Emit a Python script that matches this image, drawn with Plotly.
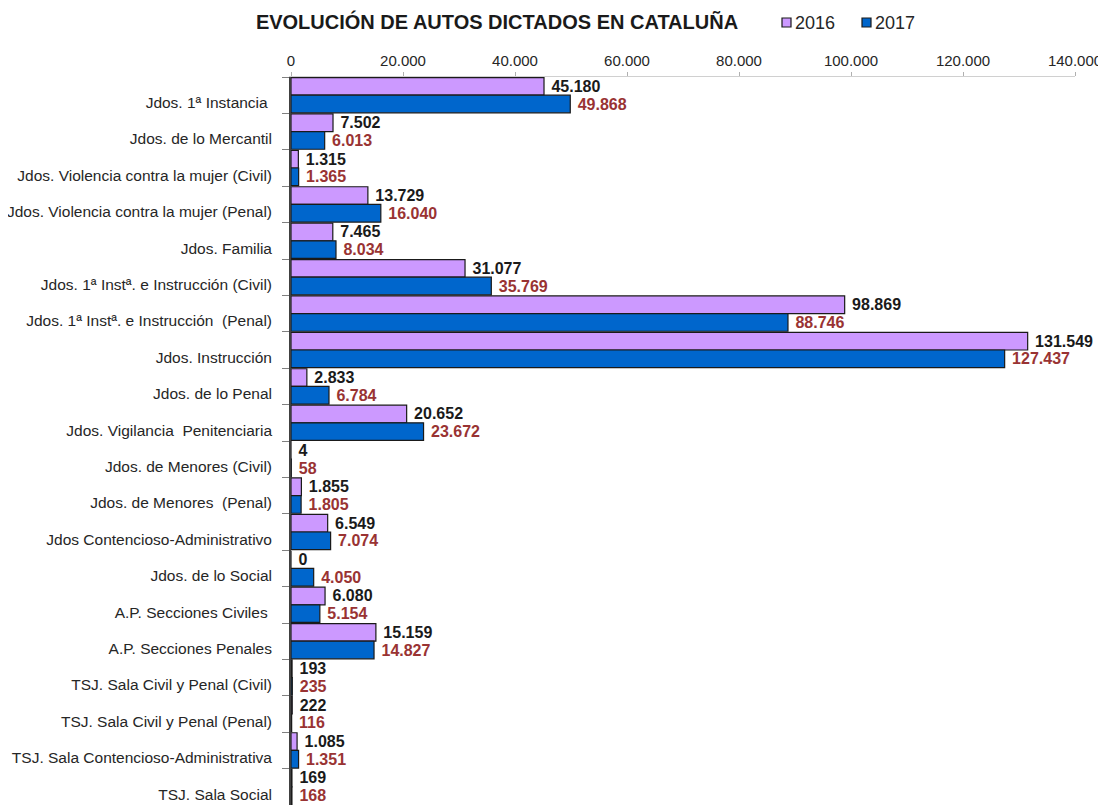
import plotly.graph_objects as go

NB = "\u00a0"
categories = [
    "Jdos. 1ª Instancia" + NB,
    "Jdos. de lo Mercantil",
    "Jdos. Violencia contra la mujer (Civil)",
    "Jdos. Violencia contra la mujer (Penal)",
    "Jdos. Familia",
    "Jdos. 1ª Instª. e Instrucción (Civil)",
    "Jdos. 1ª Instª. e Instrucción " + NB + "(Penal)",
    "Jdos. Instrucción",
    "Jdos. de lo Penal",
    "Jdos. Vigilancia " + NB + "Penitenciaria",
    "Jdos. de Menores (Civil)",
    "Jdos. de Menores " + NB + "(Penal)",
    "Jdos Contencioso-Administrativo",
    "Jdos. de lo Social",
    "A.P. Secciones Civiles" + NB,
    "A.P. Secciones Penales",
    "TSJ. Sala Civil y Penal (Civil)",
    "TSJ. Sala Civil y Penal (Penal)",
    "TSJ. Sala Contencioso-Administrativa",
    "TSJ. Sala Social",
]
values_2016 = [45180, 7502, 1315, 13729, 7465, 31077, 98869, 131549, 2833, 20652,
               4, 1855, 6549, 0, 6080, 15159, 193, 222, 1085, 169]
values_2017 = [49868, 6013, 1365, 16040, 8034, 35769, 88746, 127437, 6784, 23672,
               58, 1805, 7074, 4050, 5154, 14827, 235, 116, 1351, 168]
x_ticks = [0, 20000, 40000, 60000, 80000, 100000, 120000, 140000]
series_names = ["2016", "2017"]
series_colors = ["#CC99FF", "#0066CC"]
label_colors = ["#1a1a1a", "#993333"]

# the page body has an 8px margin, so the figure is sized to fill the rest
OFF = 8
W, H = 1106 - OFF, 805 - OFF
L, R, T, B = 291 - OFF, 31, 77 - OFF, 0
FONT = "Liberation Sans, Arial, sans-serif"
n = len(categories)
y_range = [n - 0.5, -0.5]   # reversed: first category on top
LABEL_SHIFT = 0.2           # category labels sit beside the lower (2017) bar

fig = go.Figure()
for name, vals, col, lcol in zip(series_names, [values_2016, values_2017],
                                 series_colors, label_colors):
    fig.add_trace(go.Bar(
        y=categories, x=vals, name=name, orientation="h",
        marker=dict(color=col, line=dict(color="#1a1a1a", width=1.2)),
        texttemplate=NB + "%{x:,}", textposition="outside", cliponaxis=False,
        constraintext="none", showlegend=False,
        textfont=dict(family=FONT, size=16, color=lcol, weight="bold"),
    ))
# empty helper trace so the overlaid label axis is drawn
fig.add_trace(go.Scatter(x=[], y=[], yaxis="y2", showlegend=False,
                         hoverinfo="skip", mode="markers"))

# legend drawn as small squares + text (screen pixels converted to paper coords)
def px_x(p):
    return (p - OFF - L) / (W - L - R)

def px_y(p):
    return 1 - (p - OFF - T) / (H - T - B)

legend_items = [(782, 793), (862, 873)]
for (sq_x, tx_x), name, col in zip(legend_items, series_names, series_colors):
    fig.add_shape(type="rect", xref="paper", yref="paper",
                  x0=px_x(sq_x), x1=px_x(sq_x + 9), y0=px_y(27), y1=px_y(18),
                  fillcolor=col, line=dict(color="#1a1a1a", width=1.2))
    fig.add_annotation(text=name, xref="paper", yref="paper",
                       x=px_x(tx_x), y=px_y(22.5), xanchor="left", yanchor="middle",
                       showarrow=False, font=dict(family=FONT, size=18, color="#262626"))

fig.update_layout(
    width=W, height=H,
    margin=dict(l=L, r=R, t=T, b=B),
    paper_bgcolor="white", plot_bgcolor="white",
    separators=",.",
    barmode="group", bargap=0.03, bargroupgap=0,
    font=dict(family=FONT, color="#262626"),
    title=dict(
        text="<b>EVOLUCIÓN DE AUTOS DICTADOS EN CATALUÑA</b>",
        x=(497 - OFF) / W, xanchor="center", xref="container",
        y=1 - (22 - OFF) / H, yanchor="middle", yref="container",
        font=dict(family=FONT, size=20, color="#1a1a1a"),
    ),
    showlegend=False,
    xaxis=dict(
        side="top", range=[0, 140000], tickvals=x_ticks, tickformat=",",
        showgrid=False, zeroline=False, automargin=False,
        showline=True, linecolor="#d0d0d0", linewidth=1,
        ticks="outside", ticklen=4, tickcolor="#b0b0b0",
        tickfont=dict(family=FONT, size=15, color="#262626"),
    ),
    yaxis=dict(
        type="category", range=y_range, automargin=False,
        showgrid=False, zeroline=False,
        showline=True, linecolor="#404040", linewidth=1.5,
        ticks="outside", ticklen=7, tickcolor="#808080", tickson="boundaries",
        showticklabels=False,
    ),
    yaxis2=dict(
        overlaying="y", side="left", anchor="x", type="linear",
        range=y_range, automargin=False,
        showgrid=False, zeroline=False, showline=False, ticks="",
        tickmode="array",
        tickvals=[i + LABEL_SHIFT for i in range(n)], ticktext=categories,
        ticklabelstandoff=18,
        tickfont=dict(family=FONT, size=15.5, color="#262626"),
    ),
)

fig.write_html("out.html")
